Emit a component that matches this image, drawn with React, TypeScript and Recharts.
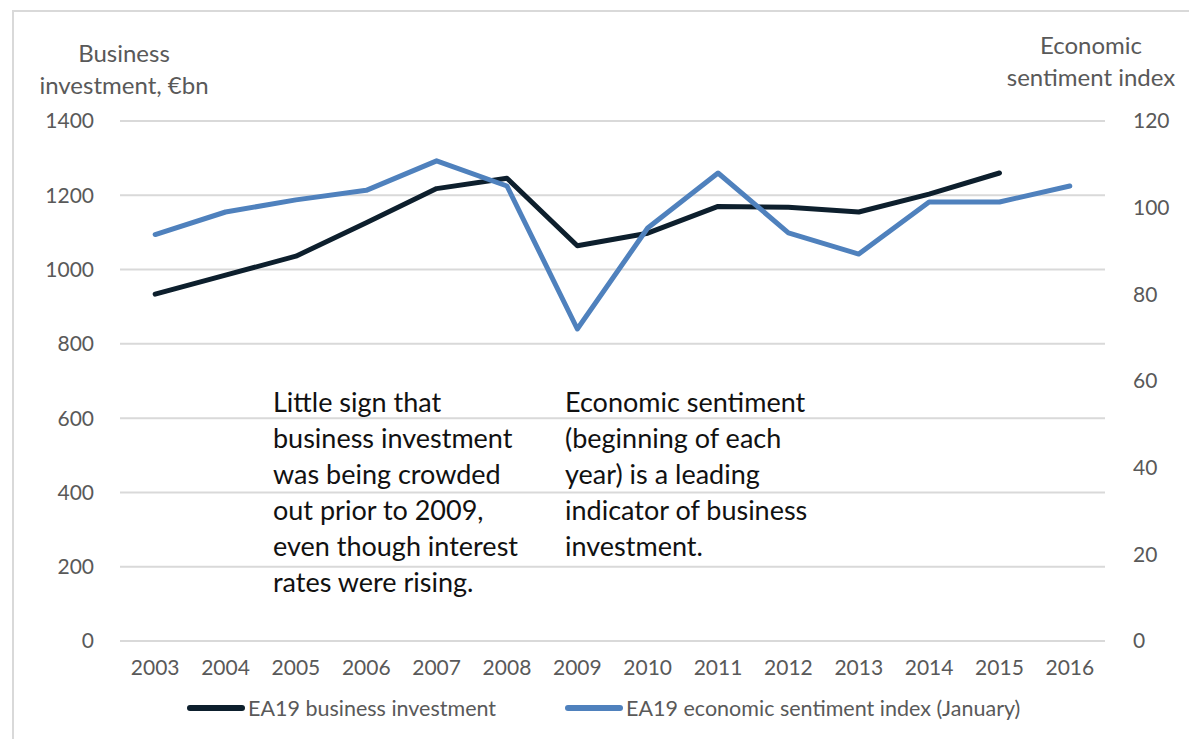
import { LineChart, Line, XAxis, YAxis, CartesianGrid, Legend } from 'recharts';

const years = ['2003', '2004', '2005', '2006', '2007', '2008', '2009', '2010', '2011', '2012', '2013', '2014', '2015', '2016'];
const investment = [934, 985, 1036, 1126, 1218, 1246, 1064, 1098, 1170, 1168, 1155, 1203, 1260, null];
const sentiment = [93.8, 99.0, 101.8, 104.0, 110.8, 105.0, 72.0, 95.3, 108.0, 94.2, 89.3, 101.3, 101.3, 105.0];
const leftTicks = [0, 200, 400, 600, 800, 1000, 1200, 1400];
const rightTicks = [0, 20, 40, 60, 80, 100, 120];

const data = years.map((year, i) => ({
  year,
  investment: investment[i],
  sentiment: sentiment[i],
}));

const FONT = 'Lato, "Open Sans", sans-serif';
const GREY = '#595959';
const BLACK_LINE = '#0d1f2d';
const BLUE_LINE = '#4f81bd';

const legendItems = [
  { label: 'EA19 business investment', color: BLACK_LINE },
  { label: 'EA19 economic sentiment index (January)', color: BLUE_LINE },
];

function ChartLegend() {
  return (
    <div style={{ display: 'flex', gap: 69, fontFamily: FONT, fontSize: 21.5, lineHeight: '26px', color: GREY }}>
      {legendItems.map((item) => (
        <div key={item.label} style={{ display: 'flex', alignItems: 'center' }}>
          <span style={{ display: 'inline-block', width: 58, height: 6, borderRadius: 3, background: item.color, marginRight: 3 }} />
          <span>{item.label}</span>
        </div>
      ))}
    </div>
  );
}

const noteStyle: React.CSSProperties = {
  position: 'absolute',
  fontFamily: FONT,
  fontSize: 27,
  lineHeight: '36px',
  color: '#111',
  whiteSpace: 'pre',
};

const titleStyle: React.CSSProperties = {
  position: 'absolute',
  width: 240,
  textAlign: 'center',
  fontFamily: FONT,
  fontSize: 24,
  lineHeight: '32px',
  color: GREY,
};

const tickStyle = { fontSize: 21, fill: GREY, fontFamily: FONT };

export default function App() {
  return (
    <div style={{ position: 'absolute', left: 0, top: 0, width: 1189, height: 739, background: '#fff', overflow: 'hidden' }}>
      <div style={{ position: 'absolute', left: 12, top: 10, width: 1177, height: 729, borderLeft: '2px solid #d9d9d9', borderTop: '2px solid #d9d9d9' }} />
      <div style={{ ...titleStyle, left: 4, top: 37 }}>
        Business<br />investment, €bn
      </div>
      <div style={{ ...titleStyle, left: 971, top: 29 }}>
        Economic<br />sentiment index
      </div>
      <div style={{ position: 'absolute', left: 0, top: 0 }}>
        <LineChart width={1189} height={739} data={data} margin={{ top: 121, right: 0, bottom: 0, left: 0 }}>
          <CartesianGrid vertical={false} stroke="#d9d9d9" strokeWidth={2} yAxisId="left" />
          <XAxis
            dataKey="year"
            scale="band"
            axisLine={false}
            tickLine={false}
            tick={tickStyle}
            tickMargin={13}
            height={44}
            interval={0}
          />
          <YAxis
            yAxisId="left"
            domain={[0, 1400]}
            ticks={leftTicks}
            axisLine={false}
            tickLine={false}
            width={120}
            tickMargin={20}
            tick={tickStyle}
          />
          <YAxis
            yAxisId="right"
            orientation="right"
            domain={[0, 120]}
            ticks={rightTicks}
            axisLine={false}
            tickLine={false}
            width={84}
            tickMargin={22}
            tick={tickStyle}
          />
          <Legend
            verticalAlign="bottom"
            height={54}
            content={() => <ChartLegend />}
            wrapperStyle={{ left: 187, top: 695, bottom: 'auto', width: 'auto' }}
          />
          <Line
            yAxisId="left"
            type="linear"
            dataKey="investment"
            stroke={BLACK_LINE}
            strokeWidth={5}
            strokeLinecap="round"
            strokeLinejoin="round"
            dot={false}
            activeDot={false}
            connectNulls={false}
            isAnimationActive={false}
          />
          <Line
            yAxisId="right"
            type="linear"
            dataKey="sentiment"
            stroke={BLUE_LINE}
            strokeWidth={5}
            strokeLinecap="round"
            strokeLinejoin="round"
            dot={false}
            activeDot={false}
            isAnimationActive={false}
          />
        </LineChart>
      </div>
      <div style={{ ...noteStyle, left: 273, top: 384 }}>
        {'Little sign that\nbusiness investment\nwas being crowded\nout prior to 2009,\neven though interest\nrates were rising.'}
      </div>
      <div style={{ ...noteStyle, left: 565, top: 384 }}>
        {'Economic sentiment\n(beginning of each\nyear) is a leading\nindicator of business\ninvestment.'}
      </div>
    </div>
  );
}
